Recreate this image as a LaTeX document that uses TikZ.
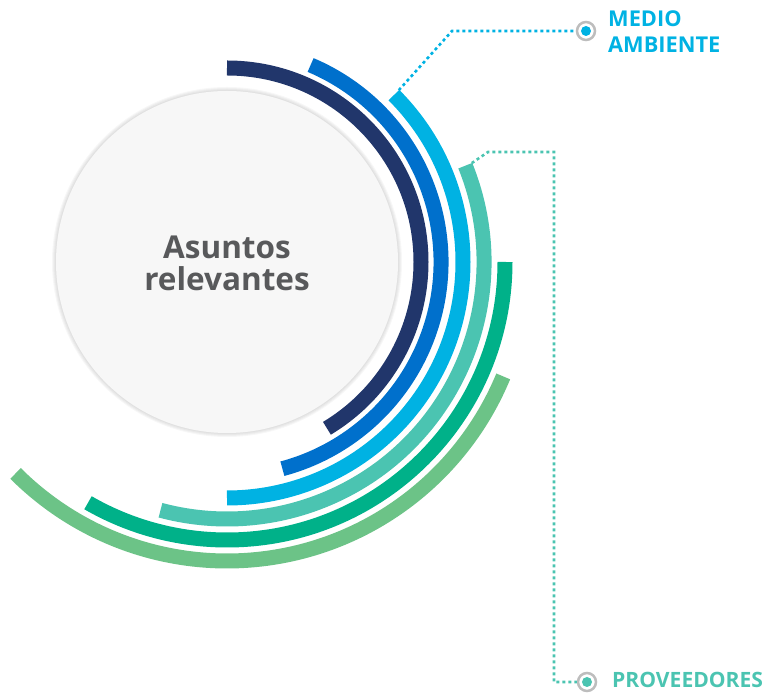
\documentclass[tikz,border=0pt]{standalone}
\usepackage{fontspec}
\setmainfont{Open Sans}
\definecolor{navy}{HTML}{21366B}
\definecolor{royal}{HTML}{0070CC}
\definecolor{sky}{HTML}{00B2E3}
\definecolor{teal}{HTML}{4BC4B1}
\definecolor{jade}{HTML}{00B189}
\definecolor{leaf}{HTML}{6CC387}
\definecolor{txtgray}{HTML}{58595B}
\definecolor{ringgray}{HTML}{BDBDBD}
\tikzset{
  ring/.style={circle, draw=ringgray, line width=2.5pt, minimum size=18pt, inner sep=0pt},
  lead/.style={line width=2.6pt, dash pattern=on 3pt off 3pt},
  label/.style={anchor=base west, align=left, inner sep=0pt, font=\fontsize{21.8}{25.6}\selectfont\bfseries}
}
\begin{document}
\begin{tikzpicture}[x=1pt,y=1pt]
\useasboundingbox (0,0) rectangle (769,693);
\coordinate (c) at (227,431);

% disco central
\foreach \i in {1,...,4}
{
    \fill[black, opacity=0.03] (c) circle (171+\i);
}
\fill[white!97!black] (c) circle (171);
\node[anchor=base, font=\fontsize{31.5}{31.7}\selectfont\bfseries, text=txtgray, align=center] (title) at (227,402.5) {Asuntos\\relevantes};

% arcos
\foreach \r/\a/\b/\col in {194/90/-59/navy, 214/67/-75/royal, 236/45/-90/sky, 257/22/-105/teal, 278/0/-120/jade, 299/-22.5/-135/leaf}
{
    \draw[\col, line width=15pt] ([shift={(\a:\r)}]c) arc (\a:\b:\r);
}

% marcadores
\node[ring] (ma) at (586,662) {};  \fill[sky] (ma) circle (5);
\node[ring] (pr) at (587,11) {};   \fill[teal] (pr) circle (5);
\node[label, text=sky] (matext) at (608,640.7) {MEDIO\\AMBIENTE};
\node[label, text=teal, font=\fontsize{21.1}{25}\selectfont\bfseries] (prtext) at (612,5) {PROVEEDORES};

% lineas guia
\coordinate (maarc) at ([shift={(45:243)}]c);
\coordinate (mabend) at (452,662);
\draw[lead, sky] (maarc) -- (mabend) -- (ma);
\coordinate (prarc) at ([shift={(22:264)}]c);
\coordinate (prbend) at (488,541);
\coordinate (prtop) at (554,541);
\coordinate (prlow) at (554,11);
\draw[lead, teal] (prarc) -- (prbend) -- (prtop) -- (prlow) -- (pr);
\end{tikzpicture}
\end{document}
